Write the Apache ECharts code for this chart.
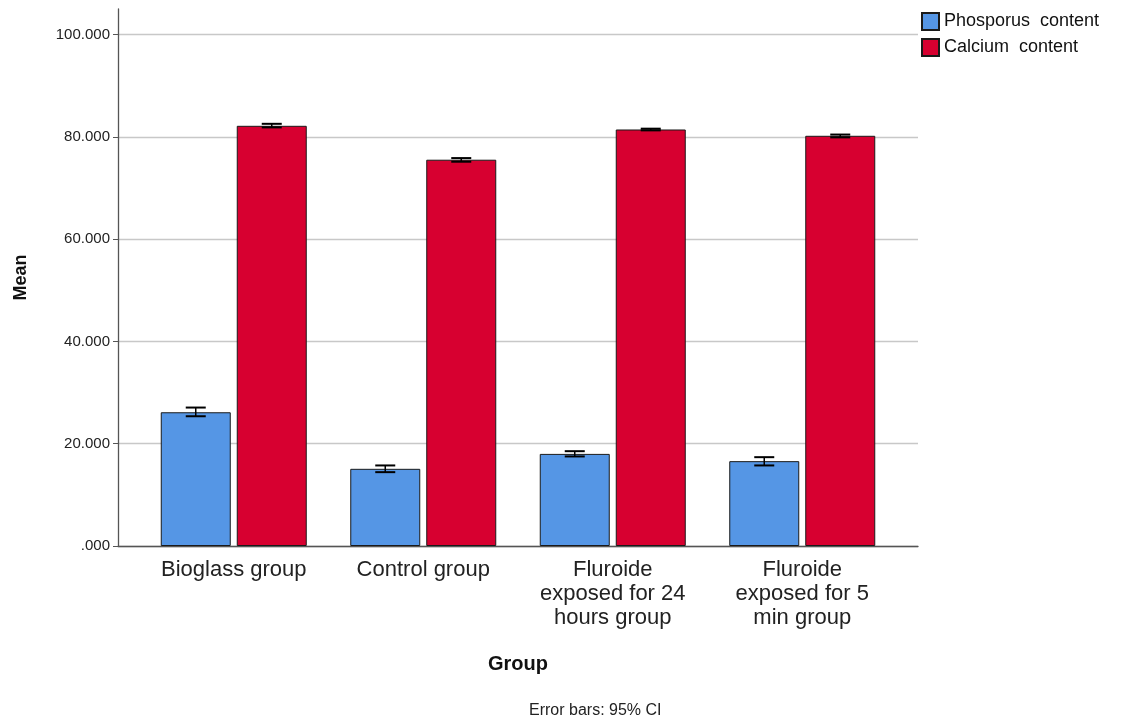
<!DOCTYPE html>
<html>
<head>
<meta charset="utf-8">
<script src="https://cdn.jsdelivr.net/npm/echarts@6/dist/echarts.min.js"></script>
<style>
  html, body { margin: 0; padding: 0; background: #fff; }
  #chart { width: 1121px; height: 722px; }
</style>
</head>
<body>
<div id="chart"></div>
<script>
// Group labels (line breaks as printed under each pair of bars)
const categories = [
  'Bioglass group',
  'Control group',
  'Fluroide\nexposed for 24\nhours group',
  'Fluroide\nexposed for 5\nmin group'
];

// Mean phosphorus content and its 95% CI
const phosphorusMean = [26.15, 15.09, 18.01, 16.59];
const phosphorusLow  = [25.37, 14.44, 17.51, 15.75];
const phosphorusHigh = [27.07, 15.75, 18.54, 17.37];

// Mean calcium content and its 95% CI
const calciumMean = [82.16, 75.53, 81.44, 80.21];
const calciumLow  = [81.85, 75.14, 81.27, 79.90];
const calciumHigh = [82.55, 75.85, 81.60, 80.45];

const yTicks = [0, 20, 40, 60, 80, 100];

const seriesNames = ['Phosporus  content', 'Calcium  content'];
const colors = ['#5596e5', '#d70030'];

const FONT = '"Liberation Sans", Arial, sans-serif';
const BAR_WIDTH = 70;
const BAR_GAP_PX = 6;
const OFFSET = (BAR_WIDTH + BAR_GAP_PX) / 2;

function errorBarRenderer(offset) {
  return function (params, api) {
    const idx = api.value(0);
    const lo = api.coord([idx, api.value(1)]);
    const hi = api.coord([idx, api.value(2)]);
    const x = lo[0] + offset;
    const half = 10;
    const style = { stroke: '#000', lineWidth: 2 };
    return {
      type: 'group',
      children: [
        { type: 'line', shape: { x1: x, y1: lo[1], x2: x, y2: hi[1] }, style: { stroke: '#000', lineWidth: 1.5 } },
        { type: 'line', shape: { x1: x - half, y1: lo[1], x2: x + half, y2: lo[1] }, style },
        { type: 'line', shape: { x1: x - half, y1: hi[1], x2: x + half, y2: hi[1] }, style }
      ]
    };
  };
}

function ciData(low, high) {
  return categories.map((_, i) => [i, low[i], high[i]]);
}

const chart = echarts.init(document.getElementById('chart'), null, { renderer: 'canvas' });

chart.setOption({
  backgroundColor: '#fff',
  animation: false,
  textStyle: { fontFamily: FONT },
  legend: {
    data: seriesNames,
    orient: 'vertical',
    left: 921,
    top: 12,
    padding: 0,
    itemWidth: 17,
    itemHeight: 17,
    itemGap: 7,
    icon: 'rect',
    textStyle: { fontSize: 18, color: '#111', fontFamily: FONT, padding: [0, 0, 0, 0] }
  },
  grid: [
    // frame: value axis, gridlines and baseline
    { left: 118, top: 9, width: 800, height: 537 },
    // bars
    { left: 139, top: 9, width: 758, height: 537 }
  ],
  xAxis: [
    {
      gridIndex: 0,
      type: 'value',
      min: 0, max: 1,
      axisLine: { show: true, lineStyle: { color: '#555', width: 1.3 } },
      axisTick: { show: false },
      axisLabel: { show: false },
      splitLine: { show: false },
      name: 'Group',
      nameLocation: 'middle',
      nameGap: 108,
      nameTextStyle: { fontSize: 20, fontWeight: 'bold', color: '#111', fontFamily: FONT }
    },
    {
      gridIndex: 1,
      type: 'category',
      data: categories,
      axisLine: { show: false },
      axisTick: { show: false },
      axisLabel: {
        fontSize: 22,
        lineHeight: 24,
        color: '#222',
        margin: 12,
        interval: 0,
        fontFamily: FONT
      }
    }
  ],
  yAxis: [
    {
      gridIndex: 0,
      type: 'value',
      min: 0, max: 105, interval: 20,
      axisLine: { show: true, lineStyle: { color: '#555', width: 1.3 } },
      axisTick: { show: true, length: 5, lineStyle: { color: '#555' } },
      axisLabel: {
        fontSize: 15,
        color: '#222',
        margin: 8,
        fontFamily: FONT,
        showMaxLabel: false,
        formatter: v => yTicks.includes(v) ? (v === 0 ? '.000' : v.toFixed(3)) : ''
      },
      splitLine: {
        show: true,
        lineStyle: { color: ['#c8c8c8', '#c8c8c8', '#c8c8c8', '#c8c8c8', '#c8c8c8', '#c8c8c8', 'rgba(0,0,0,0)'], width: 1.3 }
      },
      name: 'Mean',
      nameLocation: 'middle',
      nameGap: 88,
      nameRotate: 90,
      nameTextStyle: { fontSize: 18, fontWeight: 'bold', color: '#111', fontFamily: FONT }
    },
    {
      gridIndex: 1,
      type: 'value',
      min: 0, max: 105,
      show: false
    }
  ],
  series: [
    {
      name: seriesNames[0],
      type: 'bar',
      xAxisIndex: 1, yAxisIndex: 1,
      data: phosphorusMean,
      barWidth: BAR_WIDTH,
      barGap: (BAR_GAP_PX / BAR_WIDTH * 100) + '%',
      itemStyle: { color: colors[0], borderColor: '#1a1a1a', borderWidth: 1 }
    },
    {
      name: seriesNames[1],
      type: 'bar',
      xAxisIndex: 1, yAxisIndex: 1,
      data: calciumMean,
      barWidth: BAR_WIDTH,
      barGap: (BAR_GAP_PX / BAR_WIDTH * 100) + '%',
      itemStyle: { color: colors[1], borderColor: '#1a1a1a', borderWidth: 1 }
    },
    {
      name: 'Phosphorus CI',
      type: 'custom',
      xAxisIndex: 1, yAxisIndex: 1,
      data: ciData(phosphorusLow, phosphorusHigh),
      encode: { x: 0, y: [1, 2] },
      renderItem: errorBarRenderer(-OFFSET),
      z: 5
    },
    {
      name: 'Calcium CI',
      type: 'custom',
      xAxisIndex: 1, yAxisIndex: 1,
      data: ciData(calciumLow, calciumHigh),
      encode: { x: 0, y: [1, 2] },
      renderItem: errorBarRenderer(OFFSET),
      z: 5
    }
  ],
  graphic: [
    {
      type: 'text',
      left: 529,
      top: 703,
      style: { text: 'Error bars: 95% CI', font: '16px ' + FONT, fill: '#222' }
    }
  ]
});
</script>
</body>
</html>
